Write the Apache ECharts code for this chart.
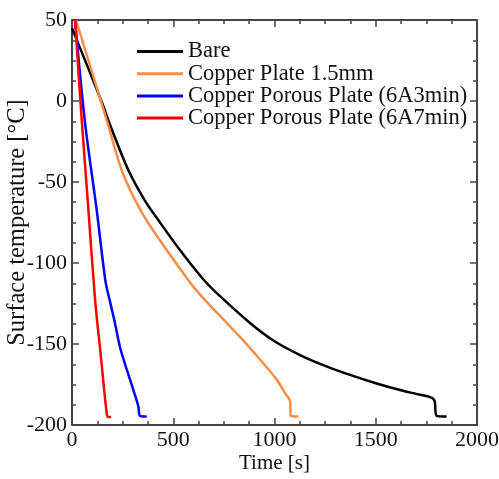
<!DOCTYPE html>
<html>
<head>
<meta charset="utf-8">
<script src="https://cdn.jsdelivr.net/npm/echarts@6/dist/echarts.min.js"></script>
<style>
  html, body { margin: 0; padding: 0; background: #fff; }
  #chart { width: 499px; height: 479px; }
</style>
</head>
<body>
<div id="chart"></div>
<script>
// 시간 [s], 표면 온도 [°C]
var bareTime = [0, 145, 188, 278, 360, 426, 533, 648, 731, 879, 1000, 1126, 1250, 1373, 1500, 1620, 1700, 1768, 1790, 1801, 1850];
var bareTemp = [45, 0, -14.8, -42.6, -61.5, -73.5, -92, -110, -120.5, -137, -148.3, -156.8, -163.5, -169.1, -174.2, -178.4, -180.8, -182.8, -185, -194.4, -194.8];

var plateTime = [20, 171, 245, 311, 385, 583, 647, 789, 879, 1011, 1050, 1077, 1080, 1118];
var plateTemp = [50, -11.7, -42.6, -61, -77, -112, -121.5, -140.3, -152.5, -172, -180, -185.6, -194.4, -194.8];

var porous3Time = [15, 64, 122, 165, 188, 212, 237, 271, 311, 328, 336, 369];
var porous3Temp = [50, -13, -67.3, -111, -124, -137, -152, -166, -181.5, -188.7, -194.4, -194.8];

var porous7Time = [15, 48, 81, 114, 138, 171, 178, 193];
var porous7Temp = [50, -11.7, -67, -122.8, -152, -192.6, -195, -195];

var seriesNames = ['Bare', 'Copper Plate 1.5mm', 'Copper Porous Plate (6A3min)', 'Copper Porous Plate (6A7min)'];
var seriesColors = ['#000000', '#f88d4a', '#0000ff', '#ff0000'];

function pairs(xs, ys) {
    var out = [];
    for (var i = 0; i < xs.length; i++) {
        out.push([xs[i], ys[i]]);
    }
    return out;
}

var allData = [
    pairs(bareTime, bareTemp),
    pairs(plateTime, plateTemp),
    pairs(porous3Time, porous3Temp),
    pairs(porous7Time, porous7Temp)
];

var font = 'Liberation Serif';
var axisColor = '#444';

function frameAxis(extra) {
    var base = {
        axisLine: { show: true, onZero: false, lineStyle: { color: axisColor, width: 2 } },
        axisTick: { show: true, inside: true, length: 7, lineStyle: { color: axisColor, width: 1.5 } },
        minorTick: { show: true, splitNumber: 4, length: 4, lineStyle: { color: axisColor, width: 1.5 } },
        splitLine: { show: false },
        minorSplitLine: { show: false }
    };
    return Object.assign(base, extra);
}

var chart = echarts.init(document.getElementById('chart'));

var option = {
    animation: false,
    backgroundColor: '#fff',
    grid: { left: 72, right: 22, top: 20, bottom: 54, containLabel: false, outerBoundsMode: 'none' },
    legend: {
        data: seriesNames,
        orient: 'vertical',
        left: 137,
        top: 40,
        padding: 0,
        itemWidth: 46,
        itemHeight: 12,
        itemGap: -0.8,
        icon: 'path://M0,0L46,0L46,3L0,3Z',
        textStyle: { fontFamily: font, fontSize: 22.5, color: '#111', lineHeight: 21 }
    },
    xAxis: [
        frameAxis({
            type: 'value', min: 0, max: 2000, interval: 500,
            name: 'Time [s]', nameLocation: 'middle', nameGap: 28, nameMoveOverlap: false,
            nameTextStyle: { fontFamily: font, fontSize: 21, color: '#111' },
            axisLabel: { fontFamily: font, fontSize: 22, color: '#111', margin: 4, formatter: function(v) { return String(v); } }
        }),
        frameAxis({
            type: 'value', min: 0, max: 2000, interval: 500, position: 'top',
            axisLabel: { show: false }
        })
    ],
    yAxis: [
        frameAxis({
            type: 'value', min: -200, max: 50, interval: 50,
            name: 'Surface temperature [°C]', nameLocation: 'middle', nameGap: 42, nameMoveOverlap: false,
            nameTextStyle: { fontFamily: font, fontSize: 24.5, color: '#111' },
            axisLabel: { fontFamily: font, fontSize: 22, color: '#111', margin: 5 }
        }),
        frameAxis({
            type: 'value', min: -200, max: 50, interval: 50, position: 'right',
            axisLabel: { show: false }
        })
    ],
    series: seriesNames.map(function(name, i) {
        return {
            name: name,
            type: 'line',
            data: allData[i],
            symbol: 'none',
            smooth: 0.3,
            color: seriesColors[i],
            lineStyle: { color: seriesColors[i], width: 2.5 }
        };
    })
};

chart.setOption(option);
</script>
</body>
</html>
